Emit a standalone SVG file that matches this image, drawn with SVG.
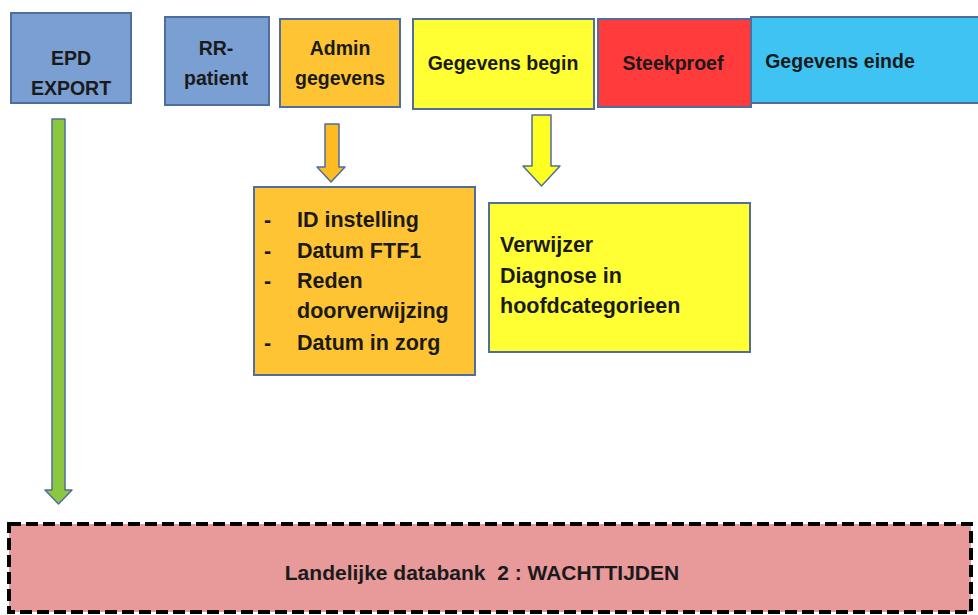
<svg xmlns="http://www.w3.org/2000/svg" width="978" height="615" viewBox="0 0 978 615">
<style>
text{font-family:"Liberation Sans",Arial,sans-serif;font-weight:bold;fill:#1a1a1a}
.box{stroke:#4f6e9e;stroke-width:2}
.t{font-size:19.5px;text-anchor:middle}
.l{font-size:21.5px}
</style>
<rect width="978" height="615" fill="#fff"/>
<g id="epd"><rect class="box" x="11" y="13" width="120" height="90" fill="#7a9fd2"/><text class="t" x="71" y="65">EPD</text><text class="t" x="71" y="95">EXPORT</text></g>
<g id="rr"><rect class="box" x="165" y="17" width="104" height="88" fill="#7a9fd2"/><text class="t" x="216" y="55">RR-</text><text class="t" x="216" y="85">patient</text></g>
<g id="admin"><rect class="box" x="280" y="19" width="120" height="88" fill="#ffc433"/><text class="t" x="340" y="55">Admin</text><text class="t" x="340" y="85">gegevens</text></g>
<g id="begin"><rect class="box" x="413" y="19" width="181" height="90" fill="#ffff33"/><text class="t" x="503" y="70">Gegevens begin</text></g>
<g id="steekproef"><rect class="box" x="598" y="19" width="153" height="88" fill="#ff3b3b"/><text class="t" x="673" y="70">Steekproef</text></g>
<g id="einde"><rect class="box" x="751" y="17" width="232" height="86" fill="#3ec3f3"/><text class="t" x="840" y="68">Gegevens einde</text></g>
<g id="adminlist"><rect class="box" x="254" y="187" width="221" height="188" fill="#ffc433"/>
<text class="l" x="264" y="227">-</text><text class="l" x="297" y="227">ID instelling</text>
<text class="l" x="264" y="258">-</text><text class="l" x="297" y="258">Datum FTF1</text>
<text class="l" x="264" y="288">-</text><text class="l" x="297" y="288">Reden</text>
<text class="l" x="297" y="318">doorverwijzing</text>
<text class="l" x="264" y="350">-</text><text class="l" x="297" y="350">Datum in zorg</text></g>
<g id="beginlist"><rect class="box" x="489" y="203" width="261" height="149" fill="#ffff33"/>
<text class="l" x="500" y="252">Verwijzer</text><text class="l" x="500" y="283">Diagnose in</text><text class="l" x="500" y="313">hoofdcategorieen</text></g>
<g id="databank"><rect x="9" y="524" width="962" height="88" fill="#e8999a" stroke="#000" stroke-width="4" stroke-dasharray="12,5"/><text x="482" y="580" font-size="21" text-anchor="middle">Landelijke databank&#160; 2 : WACHTTIJDEN</text></g>
<g id="connectors" stroke="#4f6e9e" stroke-width="1.5" stroke-linejoin="round">
<polygon points="52,119 65,119 65,490 72,490 58.5,504 45,490 52,490" fill="#8cc83f"/>
<polygon points="325,124 339,124 339,167 345,167 331,182 317,167 325,167" fill="#ffbb22"/>
<polygon points="532,115 551,115 551,166 560,166 541.5,186 523,166 532,166" fill="#ffff22"/>
</g>
</svg>
